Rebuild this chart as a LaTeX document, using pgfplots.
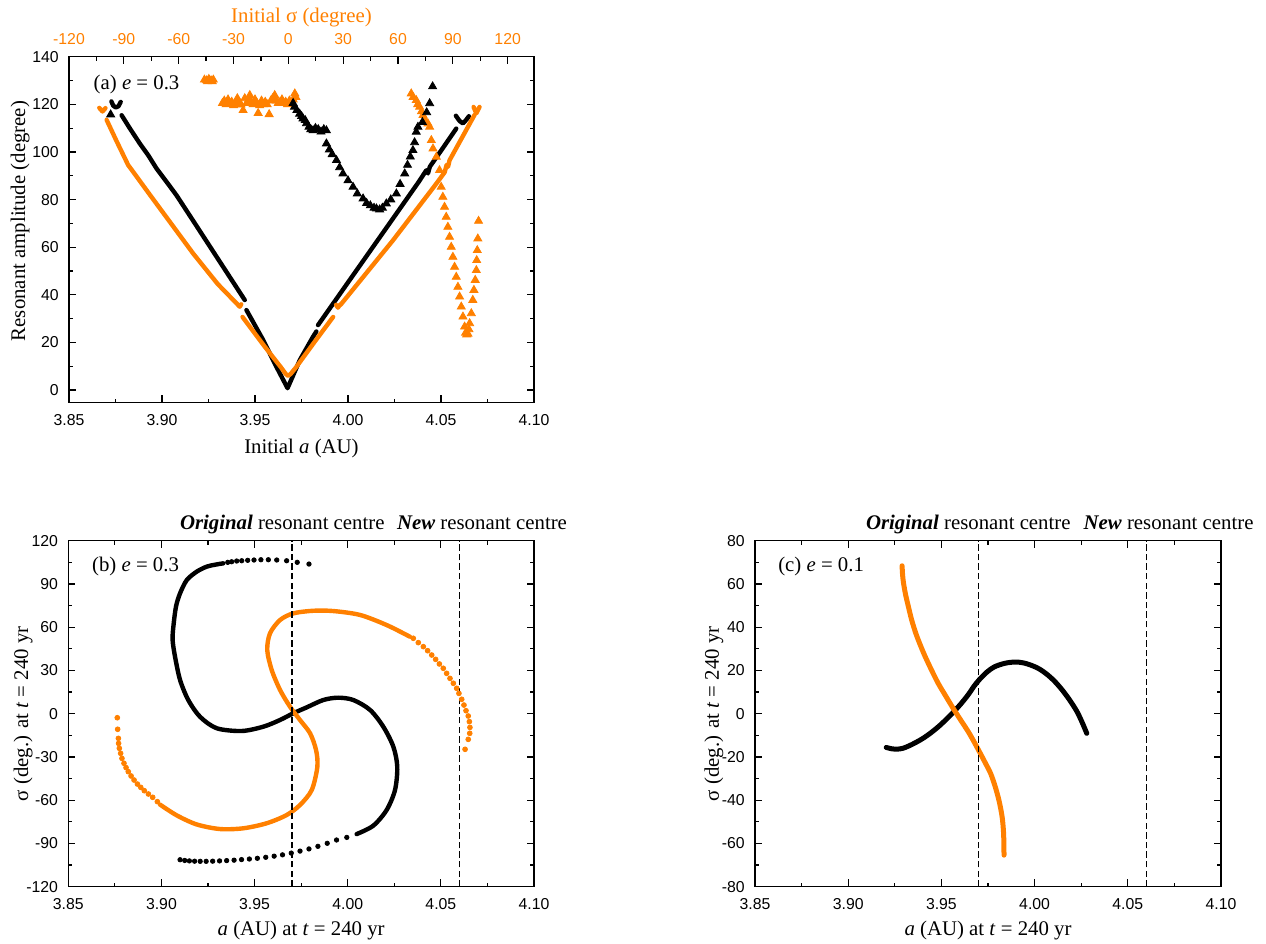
\documentclass[border=0pt]{standalone}
\usepackage{pgfplots}
\pgfplotsset{compat=1.18}
\usepackage{fontspec}
\setmainfont{Liberation Serif}
\newfontfamily\tickfont{Liberation Sans}
\definecolor{orng}{RGB}{255,128,0}

\tikzset{txt/.style={font=\fontsize{10.4}{12}\selectfont}}
\pgfplotsset{
  panel/.style={
    scale only axis, height=173pt, clip=false,
    xmin=3.85, xmax=4.10,
    xtick={3.85,3.90,3.95,4.00,4.05,4.10},
    minor xtick={3.875,3.925,3.975,4.025,4.075},
    xticklabel={\pgfmathprintnumber[fixed,fixed zerofill,precision=2]{\tick}},
    tick align=inside,
    major tick length=3.6pt, minor tick length=2pt,
    tick style={black, line width=0.6pt},
    axis line style={line width=0.6pt},
    /pgf/number format/assume math mode=true,
    tick label style={font=\tickfont\fontsize{7.9}{9}\selectfont},
    xticklabel style={yshift=-2.6pt},
    yticklabel style={xshift=-1.6pt},
    label style={font=\fontsize{10.4}{12}\selectfont},
  },
  blk/.style={black, line width=2.2pt, line cap=round, line join=round, no markers},
  org/.style={orng, line width=2.2pt, line cap=round, line join=round, no markers},
  bdot/.style={black, only marks, mark=*, mark size=1.1pt},
  odot/.style={orng, only marks, mark=*, mark size=1.2pt},
  btri/.style={black, only marks, mark=triangle*, mark size=2.3pt},
  otri/.style={orng, only marks, mark=triangle*, mark size=2.3pt},
  vline/.style={black, line width=0.7pt, dash pattern=on 3.2pt off 1.6pt, no markers},
}

\begin{document}
\begin{tikzpicture}
\useasboundingbox (0pt,0pt) rectangle (633pt,472pt);

% ---------- panel (a)
\begin{axis}[panel, at={(34.5pt,270.65pt)}, anchor=south west, width=232.5pt,
  ymin=-5.3, ymax=140, ytick={0,20,...,140}, minor y tick num=1,
  xtick pos=left,
  xlabel={Initial \textit{a} (AU)},
  xlabel style={at={(axis description cs:0.5,-0.146)}, anchor=base},
  ylabel={Resonant amplitude (degree)},
  ylabel style={at={(axis description cs:-0.0946,0.525)}, anchor=base},
]
% black circles
\addplot[blk] coordinates {(3.8728,121.2) (3.8738,119.4) (3.8752,118.7) (3.8766,119.2) (3.8778,121.0)};
\addplot[blk] coordinates {(3.8783,115.4) (3.8828,109.8) (3.8881,103.5) (3.8926,98.6) (3.8971,93.0) (3.9025,87.4) (3.9078,81.8) (3.9170,70.8) (3.9260,60.0) (3.9350,49.2) (3.9445,37.8)};
\addplot[blk] coordinates {(3.9454,33.6) (3.9544,21.0) (3.9615,9.8) (3.9675,0.8) (3.9741,12.6) (3.9812,22.4) (3.9830,24.6)};
\addplot[blk] coordinates {(3.9839,27.3) (4.0009,46.2) (4.0200,67.4) (4.0380,87.4) (4.0421,92.3) (4.0430,91.0) (4.0440,93.8) (4.0500,100.5) (4.0582,109.8)};
\addplot[blk] coordinates {(4.0580,115.2) (4.0600,113.0) (4.0618,112.0) (4.0636,113.5) (4.0650,115.0)};
% orange circles
\addplot[org] coordinates {(3.8663,118.5) (3.8680,117.0) (3.8696,118.4)};
\addplot[org] coordinates {(3.8702,113.5) (3.8756,104.5) (3.8818,94.5) (3.8837,92.5) (3.8935,82.0) (3.9168,57.3) (3.9300,44.5) (3.9401,36.4) (3.9418,35.0) (3.9426,36.0)};
\addplot[org] coordinates {(3.9433,30.7) (3.9550,18.5) (3.9640,9.5) (3.9665,6.8) (3.9678,6.0) (3.9692,6.8) (3.9720,9.5) (3.9820,20.2) (3.9920,30.7)};
\addplot[org] coordinates {(3.9936,35.8) (3.9946,34.6) (3.9956,35.8)};
\addplot[org] coordinates {(3.9960,35.8) (4.0242,62.9) (4.0475,86.7) (4.0520,91.5) (4.0530,94.5) (4.0538,93.8) (4.0546,96.5) (4.0680,115.5)};
\addplot[org] coordinates {(4.0675,118.9) (4.0690,116.2) (4.0707,118.9)};
% orange triangles
\addplot[otri] coordinates {
(3.9228,130.3) (3.9240,130.0) (3.9252,130.6) (3.9264,130.0) (3.9276,130.3) (3.9245,129.6) (3.9270,129.6)
(3.9325,120.5) (3.9335,121.5) (3.9345,120.0) (3.9355,122.0) (3.9365,120.5) (3.9375,121.0) (3.9385,119.5)
(3.9395,120.5) (3.9405,122.5) (3.9415,121.0) (3.9425,119.8) (3.9436,117.5) (3.9445,122.5) (3.9455,120.5)
(3.9465,121.8) (3.9472,123.8) (3.9480,121.0) (3.9490,120.0) (3.9500,122.0) (3.9510,120.5) (3.9517,116.3)
(3.9525,119.5) (3.9535,121.5) (3.9545,120.0) (3.9555,121.0) (3.9565,120.0) (3.9576,115.8) (3.9585,121.5)
(3.9595,122.5) (3.9606,123.8) (3.9615,121.5) (3.9625,120.5) (3.9635,121.0) (3.9645,122.0) (3.9655,120.5)
(3.9665,121.0) (3.9675,120.0) (3.9685,121.5) (3.9695,120.5) (3.9705,122.0) (3.9714,124.5) (3.9720,123.0)
(4.0340,124.5) (4.0350,123.0) (4.0367,121.7) (4.0375,120.0) (4.0385,118.9) (4.0395,117.0) (4.0403,115.4)
(4.0415,113.5) (4.0430,111.9) (4.0439,110.5) (4.0448,104.9) (4.0457,101.4) (4.0475,97.9) (4.0492,92.3)
(4.0501,85.3) (4.0510,81.1) (4.0519,76.9) (4.0528,72.7) (4.0537,68.5) (4.0546,64.3) (4.0555,60.1)
(4.0564,55.9) (4.0573,51.7) (4.0582,47.5) (4.0591,43.3) (4.0600,39.2) (4.0609,35.0) (4.0618,30.8)
(4.0627,26.6) (4.0632,24.0) (4.0638,23.3) (4.0645,23.6) (4.0650,25.5) (4.0654,28.0) (4.0663,32.2)
(4.0671,37.8) (4.0677,42.0) (4.0684,46.2) (4.0690,50.3) (4.0692,54.5) (4.0695,58.7) (4.0698,63.6)
(4.0702,71.0)};
% black triangles
\addplot[btri] coordinates {
(3.8724,115.7)
(3.9705,120.5) (3.9712,118.9) (3.9725,117.5) (3.9740,116.0) (3.9750,115.0) (3.9758,114.0) (3.9770,113.3)
(3.9777,112.0) (3.9790,110.5) (3.9800,109.5) (3.9812,109.0) (3.9825,110.0) (3.9840,109.5) (3.9855,108.5)
(3.9870,109.5) (3.9884,109.0)
(3.9884,103.5) (3.9900,101.0) (3.9915,99.0) (3.9938,96.5) (3.9955,93.5) (3.9973,90.9) (4.0000,88.0)
(4.0027,85.3) (4.0050,82.5) (4.0081,80.4) (4.0100,78.5) (4.0120,77.5) (4.0140,76.5) (4.0153,76.2)
(4.0170,75.8) (4.0185,76.5) (4.0206,78.3) (4.0230,80.0) (4.0260,82.5) (4.0280,86.5) (4.0305,90.9)
(4.0320,94.5) (4.0335,98.0) (4.0349,100.7) (4.0358,104.0) (4.0367,108.4) (4.0376,110.5) (4.0400,112.5)
(4.0423,116.6) (4.0439,120.4) (4.0455,127.5)};
\node[txt, anchor=base west] at (axis cs:3.8595,126.2) {(a) \textit{e} = 0.3};
\end{axis}

% top axis of (a)
\begin{axis}[scale only axis, at={(34.5pt,270.65pt)}, anchor=south west, width=232.5pt, height=173pt,
  xmin=-120, xmax=134.4, ymin=0, ymax=1,
  axis x line*=top, axis y line=none,
  xtick={-120,-90,...,120}, minor x tick num=1,
  tick align=inside, major tick length=3.6pt, minor tick length=2pt,
  tick style={black, line width=0.6pt}, axis line style={line width=0.6pt},
  /pgf/number format/assume math mode=true,
  xticklabel style={orng, font=\tickfont\fontsize{7.9}{9}\selectfont, yshift=2.6pt},
  xlabel={Initial σ (degree)},
  xlabel style={orng, font=\fontsize{10.4}{12}\selectfont, at={(axis description cs:0.5,1.1)}, anchor=base},
]
\addplot[draw=none] coordinates {(0,0.5)};
\end{axis}

% ---------- panel (b)
\begin{axis}[panel, at={(34.15pt,28.65pt)}, anchor=south west, width=232.85pt,
  ymin=-120, ymax=120, ytick={-120,-90,...,120}, minor y tick num=1,
  xlabel={\textit{a} (AU) at \textit{t} = 240 yr},
  xlabel style={at={(axis description cs:0.5,-0.14)}, anchor=base},
  ylabel={σ (deg.) at \textit{t} = 240 yr},
  ylabel style={at={(axis description cs:-0.0865,0.5)}, anchor=base},
]
% black
\addplot[bdot] coordinates {(3.9792,103.8) (3.9729,105.0) (3.9672,106.1) (3.9619,106.6) (3.9574,106.8) (3.9534,106.8) (3.9497,106.6) (3.9463,106.4) (3.9431,106.1) (3.9404,105.9) (3.9377,105.4) (3.9356,105.0)};
\addplot[blk, smooth] coordinates {(3.9332,104.3) (3.9290,103.4) (3.9243,102.0) (3.9189,98.5) (3.9136,92.7) (3.9100,83.5) (3.9078,74.2) (3.9064,60.3) (3.9060,51.1) (3.9073,39.5) (3.9100,23.4) (3.9144,9.5) (3.9207,-2.1) (3.9297,-10.1) (3.9431,-12.0) (3.9547,-9.0) (3.9636,-4.4) (3.9708,0.3) (3.9780,4.4) (3.9869,9.5) (3.9949,11.1) (4.0030,9.5) (4.0120,2.6) (4.0191,-9.0) (4.0245,-22.9) (4.0266,-36.8) (4.0254,-52.9) (4.0209,-66.8) (4.0137,-77.7) (4.0048,-83.5)};
\addplot[bdot] coordinates {(3.9995,-85.8) (3.9940,-87.6) (3.9890,-89.9) (3.9840,-92.0) (3.9792,-93.8) (3.9744,-95.3) (3.9697,-96.7) (3.9650,-97.9) (3.9605,-98.8) (3.9560,-99.6) (3.9515,-100.3) (3.9472,-100.8) (3.9430,-101.2) (3.9390,-101.6) (3.9350,-101.9) (3.9312,-102.1) (3.9275,-102.3) (3.9240,-102.4) (3.9208,-102.4) (3.9178,-102.3) (3.9150,-102.1) (3.9125,-101.8) (3.9100,-101.3)};
% orange
\addplot[odot] coordinates {(3.8763,-2.8) (3.8765,-10.8) (3.8769,-17.1) (3.8770,-20.6) (3.8774,-24.0) (3.8781,-27.5) (3.8788,-31.0) (3.8799,-34.4) (3.8810,-37.4) (3.8822,-40.2) (3.8837,-43.2) (3.8853,-46.0) (3.8871,-48.8) (3.8889,-51.1) (3.8908,-53.4) (3.8930,-55.7) (3.8953,-58.0) (3.8978,-61.0)};
\addplot[org, smooth] coordinates {(3.8992,-63.0) (3.9082,-70.5) (3.9189,-76.8) (3.9314,-80.0) (3.9439,-79.5) (3.9565,-76.0) (3.9672,-70.3) (3.9744,-63.3) (3.9807,-52.9) (3.9837,-36.8) (3.9830,-25.2) (3.9798,-13.6) (3.9744,-4.4) (3.9690,4.9) (3.9637,16.4) (3.9592,30.3) (3.9568,44.2) (3.9583,55.8) (3.9637,65.0) (3.9708,69.6) (3.9815,71.4) (3.9923,71.2) (4.0066,68.5) (4.0209,61.5) (4.0334,53.4)};
\addplot[odot] coordinates {(4.0352,52.3) (4.0379,49.3) (4.0406,46.5) (4.0429,43.7) (4.0451,40.7) (4.0472,37.7) (4.0492,34.5) (4.0513,31.5) (4.0531,28.0) (4.0549,24.5) (4.0567,21.1) (4.0585,17.6) (4.0597,14.1) (4.0612,10.0) (4.0624,6.0) (4.0635,2.1) (4.0647,-1.6) (4.0653,-5.5) (4.0656,-9.5) (4.0655,-13.6) (4.0647,-17.8) (4.0630,-24.7)};
\addplot[vline] coordinates {(3.97,-120) (3.97,120)};
\addplot[vline] coordinates {(4.06,-120) (4.06,120)};
\node[txt, anchor=base west] at (axis cs:3.8590,98.5) {(b) \textit{e} = 0.3};
\node[txt, anchor=base west] at (rel axis cs:0.2248,1.033) {\textbf{\textit{Original}} resonant centre};
\node[txt, anchor=base west] at (rel axis cs:0.6908,1.033) {\textbf{\textit{New}} resonant centre};
\end{axis}

% ---------- panel (c)
\begin{axis}[panel, at={(377.5pt,28.65pt)}, anchor=south west, width=233pt,
  ymin=-80, ymax=80, ytick={-80,-60,...,80}, minor y tick num=1,
  xlabel={\textit{a} (AU) at \textit{t} = 240 yr},
  xlabel style={at={(axis description cs:0.5,-0.14)}, anchor=base},
  ylabel={σ (deg.) at \textit{t} = 240 yr},
  ylabel style={at={(axis description cs:-0.0773,0.5)}, anchor=base},
]
\addplot[blk, smooth, line width=2.5pt] coordinates {(3.9204,-15.6) (3.9232,-16.2) (3.9262,-16.4) (3.9293,-16.0) (3.9323,-15.0) (3.9363,-13.3) (3.9403,-11.3) (3.9444,-8.8) (3.9484,-6.0) (3.9524,-2.8) (3.9563,0.6) (3.9604,4.5) (3.9644,8.8) (3.9674,12.6) (3.9704,15.8) (3.9745,19.3) (3.9785,21.7) (3.9840,23.3) (3.9894,23.9) (3.9940,23.5) (3.9985,22.3) (4.0025,20.7) (4.0065,18.3) (4.0105,15.2) (4.0145,11.3) (4.0185,6.7) (4.0226,1.2) (4.0255,-4.0) (4.0280,-9.1)};
\addplot[org, smooth, line width=2.5pt] coordinates {(3.9289,68.4) (3.9292,64.0) (3.9297,60.3) (3.9308,55.0) (3.9323,49.5) (3.9340,43.5) (3.9363,37.1) (3.9388,31.5) (3.9413,26.4) (3.9448,20.0) (3.9483,14.0) (3.9523,8.2) (3.9563,2.5) (3.9604,-3.0) (3.9644,-8.3) (3.9674,-12.8) (3.9704,-17.6) (3.9734,-22.5) (3.9764,-27.6) (3.9786,-33.0) (3.9804,-38.4) (3.9818,-43.8) (3.9828,-49.2) (3.9834,-56.0) (3.9836,-65.4)};
\addplot[vline] coordinates {(3.97,-80) (3.97,80)};
\addplot[vline] coordinates {(4.06,-80) (4.06,80)};
\node[txt, anchor=base west] at (axis cs:3.8587,65.7) {(c) \textit{e} = 0.1};
\node[txt, anchor=base west] at (rel axis cs:0.2232,1.033) {\textbf{\textit{Original}} resonant centre};
\node[txt, anchor=base west] at (rel axis cs:0.6900,1.033) {\textbf{\textit{New}} resonant centre};
\end{axis}
\end{tikzpicture}
\end{document}
